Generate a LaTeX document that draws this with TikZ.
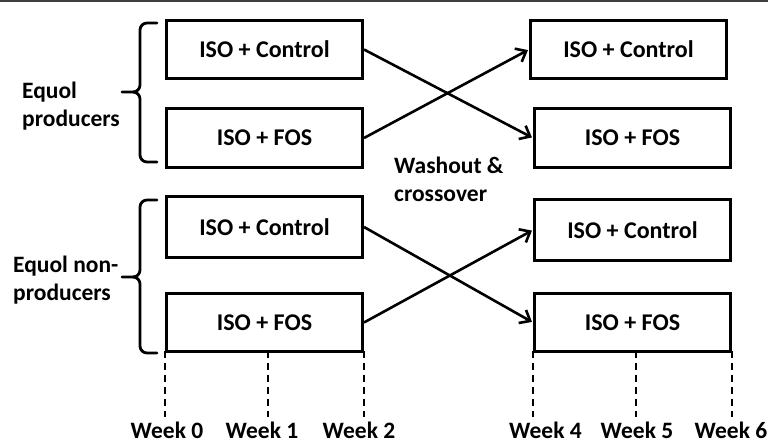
\documentclass[tikz,border=0pt]{standalone}
\usepackage{fontspec}
\setmainfont{Carlito}
\usetikzlibrary{arrows.meta}
\begin{document}
\begin{tikzpicture}[x=1pt,y=-1pt,
  every node/.style={font=\fontsize{23.5}{28.5}\selectfont\bfseries},
  armbox/.style={draw, line width=3pt, minimum width=196pt, minimum height=58.5pt, inner sep=0pt, font=\fontsize{24}{28.5}\selectfont\bfseries},
  cross/.style={line width=2.6pt, shorten >=1.2pt, -{Straight Barb[length=9pt,width=15pt]}},
  brace/.style={line width=2.8pt, line join=round, line cap=round},
  tickline/.style={line width=2.8pt, dash pattern=on 7pt off 5pt},
  grouplabel/.style={align=left, inner sep=0pt, anchor=west},
  weeklabel/.style={inner sep=0pt, anchor=base}]
\useasboundingbox (0,0) rectangle (768,442);

% rule along the top edge
\draw[line width=1.6pt, black!75] (0,0.8) -- (768,0.8);

% first period (weeks 0-2)
\node[armbox] (pa) at (264.5,49.5) {ISO + Control};
\node[armbox] (pb) at (264.5,138) {ISO + FOS};
\node[armbox, minimum height=61pt] (na) at (264.5,227) {ISO + Control};
\node[armbox] (nb) at (264.5,322.5) {ISO + FOS};

% second period (weeks 4-6)
\node[armbox] (pc) at (628.5,49.5) {ISO + Control};
\node[armbox] (pd) at (632.5,138) {ISO + FOS};
\node[armbox, minimum height=61pt] (nc) at (632.5,230) {ISO + Control};
\node[armbox] (nd) at (632.5,322.5) {ISO + FOS};

% crossover arrows
\draw[cross] (pa.east) -- (pd.west);
\draw[cross] (pb.east) -- (pc.west);
\draw[cross] (na.east) -- (nd.west);
\draw[cross] (nb.east) -- (nc.west);

% group labels
\node[grouplabel] (prod) at (22,106.3) {Equol\\producers};
\node[grouplabel] (nonprod) at (13,280.3) {Equol non-\\producers};
\node[grouplabel] (wash) at (394,179.3) {Washout \&\\crossover};

% braces
\draw[brace] (157,23) -- (147,23) to[out=180,in=90] (140,30) -- (140,85)
  to[out=-90,in=0] (133,92) -- (122,92);
\draw[brace] (133,92) to[out=0,in=90] (140,99) -- (140,155)
  to[out=-90,in=180] (147,162) -- (157,162);
\draw[brace] (157,200) -- (147,200) to[out=180,in=90] (140,207) -- (140,270)
  to[out=-90,in=0] (133,277) -- (122,277);
\draw[brace] (133,277) to[out=0,in=90] (140,284) -- (140,346)
  to[out=-90,in=180] (147,353) -- (157,353);

% week ticks
\coordinate (t0) at (165,417);
\coordinate (t1) at (268,417);
\coordinate (t2) at (364,417);
\coordinate (t4) at (533,417);
\coordinate (t5) at (636,417);
\coordinate (t6) at (732,417);
\draw[tickline] (165,351) -- (t0);
\draw[tickline] (268,351) -- (t1);
\draw[tickline] (364,351) -- (t2);
\draw[tickline] (533,351) -- (t4);
\draw[tickline] (636,351) -- (t5);
\draw[tickline] (732,351) -- (t6);

\node[weeklabel] (w0) at (167,438.5) {Week 0};
\node[weeklabel] (w1) at (262,438.5) {Week 1};
\node[weeklabel] (w2) at (359,438.5) {Week 2};
\node[weeklabel] (w4) at (545.5,438.5) {Week 4};
\node[weeklabel] (w5) at (637,438.5) {Week 5};
\node[weeklabel] (w6) at (731,438.5) {Week 6};
\end{tikzpicture}
\end{document}
